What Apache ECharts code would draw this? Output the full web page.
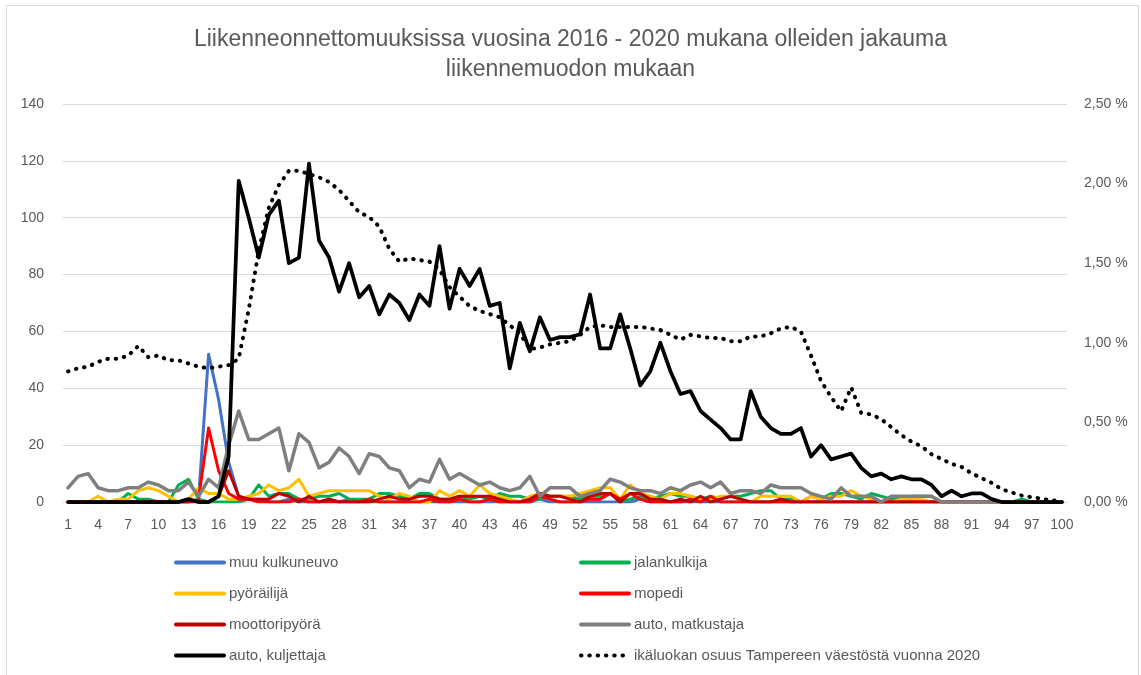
<!DOCTYPE html>
<html>
<head>
<meta charset="utf-8">
<script src="https://cdn.jsdelivr.net/npm/echarts@6/dist/echarts.min.js"></script>
<style>
  body { margin: 0; background: #ffffff; }
  #chart-container { width: 1141px; height: 675px; }
</style>
</head>
<body>
<div id="chart-container"></div>
<script>
// ikä (age) categories
const ages = [
  1,2,3,4,5,6,7,8,9,10,11,12,13,14,15,16,17,18,19,20,
  21,22,23,24,25,26,27,28,29,30,31,32,33,34,35,36,37,38,39,40,
  41,42,43,44,45,46,47,48,49,50,51,52,53,54,55,56,57,58,59,60,
  61,62,63,64,65,66,67,68,69,70,71,72,73,74,75,76,77,78,79,80,
  81,82,83,84,85,86,87,88,89,90,91,92,93,94,95,96,97,98,99,100
];

const muuKulkuneuvo = [
  0,0,0,0,0,0,0,0,0,0, 0,0,0,1,52,36,14,2,1,1,
  0,0,1,0,0,0,1,0,1,0, 0,0,0,0,0,0,0,0,0,0,
  0,0,0,0,0,0,0,1,0,0, 0,0,0,0,0,0,0,1,0,0,
  0,0,0,0,0,0,0,0,0,0, 0,0,0,0,0,0,0,0,0,0,
  0,0,0,0,0,0,0,0,0,0, 0,0,0,0,0,0,0,0,0,0
];

const jalankulkija = [
  0,0,0,0,0,0,3,1,1,0, 0,6,8,1,0,0,0,0,1,6,
  2,3,3,1,1,2,2,3,1,1, 1,3,3,2,1,3,3,1,1,2,
  1,2,1,3,2,2,1,1,2,2, 2,1,2,2,3,0,1,2,1,2,
  3,2,2,1,2,1,2,2,3,4, 4,1,1,0,2,1,3,3,2,1,
  3,2,1,1,2,2,2,0,0,0, 0,0,0,0,0,1,0,0,0,0
];

const pyorailija = [
  0,0,0,2,0,1,1,4,5,4, 2,0,1,5,3,3,1,1,2,3,
  6,4,5,8,2,3,4,4,4,4, 4,2,1,3,2,0,0,4,2,4,
  2,6,3,2,1,0,2,3,2,2, 2,3,4,5,5,1,6,3,2,1,
  3,3,2,1,1,2,2,1,0,2, 2,2,2,0,2,1,2,2,4,2,
  1,0,0,1,1,1,0,0,0,0, 0,0,0,0,0,0,0,0,0,0
];

const mopedi = [
  0,0,0,0,0,0,0,0,0,0, 0,0,0,1,26,11,3,1,1,0,
  0,0,0,1,0,0,0,0,0,0, 1,0,0,0,0,0,1,0,0,1,
  0,0,1,0,0,0,0,2,1,0, 0,0,1,1,3,1,3,1,0,0,
  0,0,1,0,2,0,0,0,0,0, 0,0,0,0,0,0,0,0,0,0,
  0,0,0,0,0,0,0,0,0,0, 0,0,0,0,0,0,0,0,0,0
];

const moottoripyora = [
  0,0,0,0,0,0,0,0,0,0, 0,0,0,0,0,2,11,2,1,1,
  1,3,2,0,2,0,1,0,0,0, 0,1,2,1,1,2,2,1,1,2,
  2,2,2,1,0,0,1,3,2,2, 1,0,2,3,3,0,3,3,1,1,
  0,1,0,2,0,1,2,1,0,0, 0,1,0,0,0,0,0,0,0,0,
  0,0,0,0,0,0,0,0,0,0, 0,0,0,0,0,0,0,0,0,0
];

const autoMatkustaja = [
  5,9,10,5,4,4,5,5,7,6, 4,4,7,2,8,5,20,32,22,22,
  24,26,11,24,21,12,14,19,16,10, 17,16,12,11,5,8,7,15,8,10,
  8,6,7,5,4,5,9,2,5,5, 5,2,3,4,8,7,5,4,4,3,
  5,4,6,7,5,7,3,4,4,3, 6,5,5,5,3,2,1,5,2,2,
  2,0,2,2,2,2,2,0,0,0, 0,0,0,0,0,0,0,0,0,0
];

const autoKuljettaja = [
  0,0,0,0,0,0,0,0,0,0, 0,0,1,0,0,2,16,113,100,86,
  101,106,84,86,119,92,86,74,84,72, 76,66,73,70,64,73,69,90,68,82,
  76,82,69,70,47,63,53,65,57,58, 58,59,73,54,54,66,54,41,46,56,
  46,38,39,32,29,26,22,22,39,30, 26,24,24,26,16,20,15,16,17,12,
  9,10,8,9,8,8,6,2,4,2, 3,3,1,0,0,0,0,0,0,0
];

// ikäluokan osuus väestöstä, %
const vaestoOsuus = [
  0.82,0.84,0.85,0.88,0.90,0.90,0.92,0.98,0.91,0.92,
  0.89,0.89,0.87,0.85,0.84,0.85,0.86,0.90,1.21,1.58,
  1.85,1.99,2.08,2.08,2.06,2.04,2.01,1.96,1.89,1.82,
  1.79,1.73,1.59,1.51,1.53,1.52,1.51,1.46,1.35,1.29,
  1.23,1.20,1.18,1.16,1.11,1.06,0.96,0.97,0.99,1.00,
  1.01,1.05,1.10,1.11,1.10,1.10,1.10,1.10,1.09,1.08,
  1.05,1.02,1.05,1.04,1.03,1.03,1.01,1.01,1.04,1.04,
  1.06,1.09,1.10,1.07,0.92,0.76,0.66,0.57,0.72,0.56,
  0.55,0.52,0.47,0.42,0.38,0.35,0.30,0.27,0.24,0.22,
  0.18,0.15,0.12,0.08,0.06,0.04,0.03,0.02,0.01,0.01
];

const txt = '#595959';
const gridCol = '#D9D9D9';
const font = '"Liberation Sans", Arial, sans-serif';
const popName = 'ikäluokan osuus Tampereen väestöstä vuonna 2020';

function lineSeries(name, data, color, width) {
  return {
    name: name,
    type: 'line',
    data: data,
    symbol: 'none',
    smooth: false,
    yAxisIndex: 0,
    lineStyle: { color: color, width: width, join: 'round', cap: 'round' },
    itemStyle: { color: color }
  };
}

// one legend per entry, laid out in two columns like the original
function legendItem(name, left, top) {
  return {
    orient: 'horizontal',
    left: left,
    top: top,
    padding: 0,
    itemWidth: 48,
    itemHeight: 14,
    itemStyle: { color: 'rgba(0,0,0,0)', borderWidth: 0 },
    lineStyle: { width: 4 },
    textStyle: { color: txt, fontSize: 15, fontFamily: font },
    data: [name]
  };
}

const chart = echarts.init(document.getElementById('chart-container'));
var option;
option = {
  backgroundColor: '#ffffff',
  animation: false,
  textStyle: { fontFamily: font },
  title: {
    text: 'Liikenneonnettomuuksissa vuosina 2016 - 2020 mukana olleiden jakauma\nliikennemuodon mukaan',
    left: 'center',
    top: 20,
    textStyle: {
      fontFamily: font,
      fontWeight: 'normal',
      fontSize: 23,
      lineHeight: 30,
      color: txt
    }
  },
  graphic: [{
    type: 'rect',
    shape: { x: 6.5, y: 5.5, width: 1132, height: 700 },
    style: { fill: 'none', stroke: gridCol, lineWidth: 1 },
    silent: true
  }],
  legend: [
    legendItem('muu kulkuneuvo', 174, 555),
    legendItem('pyöräilijä', 174, 586),
    legendItem('moottoripyörä', 174, 617),
    legendItem('auto, kuljettaja', 174, 648),
    legendItem('jalankulkija', 579, 555),
    legendItem('mopedi', 579, 586),
    legendItem('auto, matkustaja', 579, 617),
    legendItem(popName, 579, 648)
  ],
  grid: {
    left: 63,
    right: 74,
    top: 104,
    bottom: 173
  },
  xAxis: {
    type: 'category',
    data: ages,
    boundaryGap: true,
    axisTick: { show: false },
    axisLine: { lineStyle: { color: gridCol } },
    axisLabel: { interval: 2, color: txt, fontSize: 14, margin: 16 }
  },
  yAxis: [
    {
      type: 'value',
      min: 0,
      max: 140,
      interval: 20,
      axisLine: { show: false },
      axisTick: { show: false },
      splitLine: { lineStyle: { color: gridCol, width: 1 } },
      axisLabel: { color: txt, fontSize: 14, margin: 19 }
    },
    {
      type: 'value',
      min: 0,
      max: 2.5,
      interval: 0.5,
      alignTicks: false,
      axisLine: { show: false },
      axisTick: { show: false },
      splitLine: { show: false },
      axisLabel: {
        color: txt,
        fontSize: 14,
        margin: 17,
        formatter: function (v) { return v.toFixed(2).replace('.', ',') + ' %'; }
      }
    }
  ],
  series: [
    lineSeries('muu kulkuneuvo', muuKulkuneuvo, '#4472C4', 3),
    lineSeries('jalankulkija', jalankulkija, '#00B050', 3),
    lineSeries('pyöräilijä', pyorailija, '#FFC000', 3),
    lineSeries('mopedi', mopedi, '#FF0000', 3),
    lineSeries('moottoripyörä', moottoripyora, '#C00000', 3),
    lineSeries('auto, matkustaja', autoMatkustaja, '#7F7F7F', 3.5),
    lineSeries('auto, kuljettaja', autoKuljettaja, '#000000', 3.75),
    {
      name: popName,
      type: 'line',
      data: vaestoOsuus,
      yAxisIndex: 1,
      symbol: 'none',
      smooth: false,
      lineStyle: { color: '#000000', width: 4, type: [0.5, 7.8], cap: 'round', join: 'round' },
      itemStyle: { color: '#000000' }
    }
  ]
};
chart.setOption(option);
</script>
</body>
</html>
